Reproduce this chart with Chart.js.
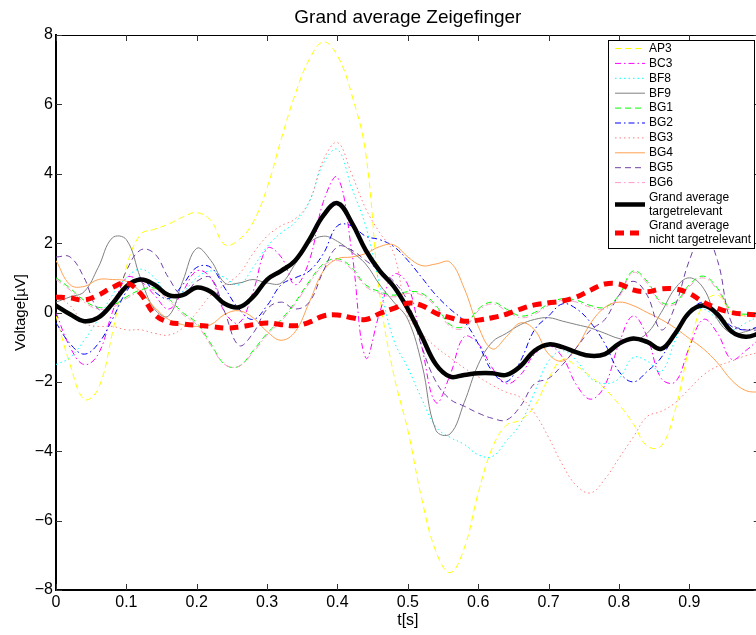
<!DOCTYPE html>
<html>
<head>
<meta charset="utf-8">
<script src="https://cdn.jsdelivr.net/npm/chart.js@4.4.1/dist/chart.umd.min.js"></script>
<style>
    html, body { margin: 0; padding: 0; background: #fff; }
    canvas { display: block; }
</style>
</head>
<body>
<canvas id="erp-chart" width="756" height="635"></canvas>
<script>
// Time axis (seconds)
const times = [0.00, 0.02, 0.04, 0.06, 0.08, 0.10, 0.12, 0.14, 0.16, 0.18,
               0.20, 0.22, 0.24, 0.26, 0.28, 0.30, 0.32, 0.34, 0.36, 0.38,
               0.40, 0.42, 0.44, 0.46, 0.48, 0.50, 0.52, 0.54, 0.56, 0.58,
               0.60, 0.62, 0.64, 0.66, 0.68, 0.70, 0.72, 0.74, 0.76, 0.78,
               0.80, 0.82, 0.84, 0.86, 0.88, 0.90, 0.92, 0.94, 0.96, 0.98,
               1.00];
const xTicks = [0, 0.1, 0.2, 0.3, 0.4, 0.5, 0.6, 0.7, 0.8, 0.9];
const yTicks = [-8, -6, -4, -2, 0, 2, 4, 6, 8];

// Subjects (µV)
const ap3 = [-0.1, -1.5, -2.5, -2.2, -0.6, 1.3, 2.25, 2.4, 2.55, 2.75,
             2.88, 2.65, 1.95, 2.1, 2.6, 3.6, 5.0, 6.3, 7.3, 7.8,
             7.4, 6.3, 4.6, 0.5, -1.8, -3.4, -5.4, -6.9, -7.5, -6.8,
             -5.2, -3.9, -3.25, -3.1, -2.7, -1.9, -1.35, -1.55, -1.85, -2.2,
             -2.65, -3.2, -3.85, -3.85, -2.8, -1.0, 0.25, 0.5, 0.0, -0.1,
             -0.1];
const bc3 = [0.0, -1.0, -1.5, -1.2, 0.0, 1.0, 0.9, 0.5, 0.1, 0.6,
             1.2, 1.0, 0.0, -0.3, 0.6, 1.85, 1.6, 0.8, 1.5, 3.2,
             3.9, 1.8, -1.3, 0.0, 1.1, 0.8, -1.0, -2.6, -1.8, -0.7,
             -0.9, -1.6, -2.05, -1.8, -1.2, -0.95, -1.3, -2.1, -2.5, -2.1,
             -0.9, -0.1, -0.7, -1.9, -2.0, -1.0, -0.2, -0.6, -1.35, -1.1,
             -0.75];
const bf8 = [-1.5, -1.3, -0.8, -0.2, 0.5, 1.0, 1.25, 1.0, 0.5, 0.6,
             1.0, 1.2, 1.0, 0.8, 1.3, 1.9, 2.3, 2.6, 3.2, 4.3,
             4.7, 3.6, 2.5, 0.8, -0.8, -1.6, -2.5, -3.3, -3.6, -3.8,
             -4.1, -4.15, -3.7, -3.2, -2.3, -1.4, -1.1, -1.4, -1.9, -2.05,
             -1.9, -1.3, -1.4, -1.7, -0.8, 0.0, 0.1, -0.2, -0.5, -0.3,
             -0.1];
const bf9 = [0.3, 0.45, 0.6, 1.3, 2.15, 2.1, 1.0, 0.1, -0.1, 0.9,
             1.85, 1.5, 0.85, 0.85, 0.95, 0.85, 0.85, 1.4, 2.0, 2.2,
             2.05, 1.75, 1.4, 0.8, 0.3, -0.2, -1.5, -3.4, -3.5, -2.6,
             -1.5, -0.85, -0.6, -0.35, -0.2, -0.15, -0.25, -0.35, -0.45, -0.6,
             -0.75, -0.8, -0.6, 0.0, 0.7, 1.0, 0.7, -0.2, -0.6, -0.55,
             -0.4];
const bg1 = [1.0, 0.7, 0.35, 0.15, 0.2, 0.45, 0.65, 0.7, 0.4, 0.0,
             -0.3, -0.9, -1.5, -1.55, -1.1, -0.6, -0.2, 0.3, 0.9, 1.4,
             1.55, 1.3, 0.8, 0.6, 0.5, 0.6, 0.55, 0.2, -0.35, -0.4,
             0.1, 0.3, 0.1, -0.1, 0.0, 0.25, 0.4, 0.35, 0.2, 0.15,
             0.5, 1.2, 0.9, 0.3, 0.3, 0.8, 1.05, 0.7, 0.05, -0.05,
             0.0];
const bg2 = [-0.3, -0.9, -1.2, -0.9, -0.2, 0.6, 1.0, 0.6, 0.4, 0.8,
             1.3, 1.3, 0.7, 0.1, -0.2, 0.2, 0.8, 1.0, 1.2, 1.7,
             2.5, 2.5, 2.2, 2.1, 1.9, 1.5, 1.0, 0.5, 0.1, -0.25,
             -0.9, -1.7, -2.0, -1.4, -0.5, -0.1, 0.25, 0.1, -0.3, -0.9,
             -1.7, -2.0, -1.7, -1.3, -0.6, 0.0, 0.3, 0.0, -0.4, -0.5,
             -0.4];
const bg3 = [0.5, 0.2, -0.3, -0.4, -0.4, -0.5, -0.5, -0.6, -0.65, -0.45,
             0.0, 0.5, 0.8, 1.1, 1.7, 2.2, 2.5, 2.7, 3.2, 4.4,
             4.9, 4.0, 3.0, 2.3, 1.7, -0.1, -0.6, -1.0, -1.3, -1.6,
             -1.85, -2.1, -2.3, -2.45, -2.9, -3.6, -4.4, -5.0, -5.2, -4.8,
             -4.2, -3.6, -3.0, -2.85, -2.6, -2.2, -1.8, -1.55, -1.4, -1.25,
             -1.15];
const bg4 = [1.5, 0.8, 0.75, 0.95, 0.95, 0.9, 0.6, 0.15, -0.2, -0.35,
             -0.4, -0.35, -0.05, 0.05, -0.15, -0.55, -0.8, -0.55, 0.3, 1.2,
             1.55, 1.6, 1.7, 1.9, 1.95, 1.6, 1.35, 1.4, 1.45, 0.7,
             -0.4, -1.05, -0.7, -0.3, -0.5, -1.2, -1.4, -1.0, -0.3, 0.15,
             0.3, 0.2, 0.0, -0.2, -0.45, -0.75, -1.05, -1.45, -1.95, -2.25,
             -2.3];
const bg5 = [1.6, 1.6, 1.0, 0.1, 0.2, 1.2, 1.8, 1.7, 1.0, 0.5,
             0.9, 1.0, 0.0, -0.95, -0.6, 0.1, 0.3, 0.1, 0.3, 1.2,
             1.9, 1.8, 1.5, 1.2, 0.9, 0.3, -1.0, -2.0, -2.5, -2.7,
             -2.9, -3.05, -3.1, -2.7, -2.05, -1.9, -1.5, -1.0, -0.5, -0.2,
             0.5, 0.9, 0.5, -0.5, 0.2, 1.5, 2.3, 1.5, -0.3, -0.5,
             -0.5];
const bg6 = [0.95, 0.65, 0.3, 0.1, 0.15, 0.4, 0.6, 0.65, 0.35, -0.05,
             -0.35, -0.95, -1.5, -1.55, -1.15, -0.65, -0.25, 0.25, 0.85, 1.35,
             1.5, 1.25, 0.75, 0.55, 0.45, 0.55, 0.5, 0.15, -0.4, -0.45,
             0.05, 0.25, 0.05, -0.15, -0.05, 0.2, 0.35, 0.3, 0.15, 0.1,
             0.45, 1.15, 0.85, 0.25, 0.25, 0.75, 1.0, 0.65, 0.0, -0.1,
             -0.05];

// Grand averages (µV)
const gaTarget = [0.2, -0.05, -0.25, -0.15, 0.25, 0.75, 0.95, 0.8, 0.5, 0.5,
                  0.72, 0.6, 0.25, 0.15, 0.45, 0.95, 1.2, 1.5, 2.1, 2.8,
                  3.15, 2.6, 1.8, 1.2, 0.75, 0.1, -0.7, -1.5, -1.85, -1.8,
                  -1.75, -1.75, -1.8, -1.55, -1.1, -0.92, -1.0, -1.15, -1.25, -1.2,
                  -0.9, -0.75, -0.85, -1.05, -0.6, 0.0, 0.2, -0.05, -0.55, -0.7,
                  -0.6];
const gaNonTarget = [0.45, 0.42, 0.36, 0.5, 0.72, 0.85, 0.55, -0.05, -0.28, -0.33,
                     -0.37, -0.4, -0.45, -0.42, -0.35, -0.3, -0.35, -0.38, -0.28, -0.1,
                     -0.07, -0.15, -0.2, -0.03, 0.12, 0.27, 0.2, -0.02, -0.15, -0.25,
                     -0.22, -0.15, -0.05, 0.1, 0.22, 0.28, 0.33, 0.45, 0.65, 0.82,
                     0.82, 0.65, 0.6, 0.68, 0.68, 0.55, 0.3, 0.12, 0.0, -0.05,
                     -0.07];

const FONT = '"Liberation Sans", Arial, Helvetica, sans-serif';
const DASH = [6, 4];
const DASHDOT = [6, 3, 1.5, 3];
const DOT = [1.5, 3];

// Series definitions (label, values, style)
const series = [
    { label: 'AP3', values: ap3, color: '#ffff00', width: 1, dash: DASH },
    { label: 'BC3', values: bc3, color: '#ff00ff', width: 1, dash: DASHDOT },
    { label: 'BF8', values: bf8, color: '#00ffff', width: 1, dash: DOT },
    { label: 'BF9', values: bf9, color: '#808080', width: 1, dash: [] },
    { label: 'BG1', values: bg1, color: '#00ff00', width: 1, dash: DASH },
    { label: 'BG2', values: bg2, color: '#0000ff', width: 1, dash: DASHDOT },
    { label: 'BG3', values: bg3, color: '#ff7f7f', width: 1, dash: DOT },
    { label: 'BG4', values: bg4, color: '#ffa050', width: 1, dash: [] },
    { label: 'BG5', values: bg5, color: '#7040a8', width: 1, dash: DASH },
    { label: 'BG6', values: bg6, color: '#ff99c8', width: 1, dash: DASHDOT },
    { label: ['Grand average', 'targetrelevant'], values: gaTarget, color: '#000000', width: 4.5, dash: [] },
    { label: ['Grand average', 'nicht targetrelevant'], values: gaNonTarget, color: '#ff0000', width: 5, dash: [9, 6] }
];

const X_MAX = 0.9947; // right edge of the figure cuts the axes just before t = 1

// Frame, ticks, title, axis labels and legend in MATLAB style
const matlabFrame = {
    id: 'matlabFrame',
    afterDatasetsDraw(chart) {
        const ctx = chart.ctx;
        const area = chart.chartArea;
        const xs = chart.scales.x;
        const ys = chart.scales.y;
        const xRight = xs.getPixelForValue(1);

        ctx.save();
        ctx.strokeStyle = '#000';

        // top border
        ctx.lineWidth = 1;
        ctx.beginPath();
        ctx.moveTo(area.left, area.top + 0.5);
        ctx.lineTo(xRight, area.top + 0.5);
        ctx.stroke();

        // inward ticks
        ctx.strokeStyle = '#333';
        ctx.beginPath();
        xTicks.forEach(v => {
            const px = Math.round(xs.getPixelForValue(v)) + 0.5;
            ctx.moveTo(px, area.bottom);
            ctx.lineTo(px, area.bottom - 6);
            ctx.moveTo(px, area.top);
            ctx.lineTo(px, area.top + 6);
        });
        yTicks.forEach(v => {
            const py = Math.round(ys.getPixelForValue(v)) + 0.5;
            ctx.moveTo(area.left, py);
            ctx.lineTo(area.left + 6, py);
            ctx.moveTo(xRight, py);
            ctx.lineTo(xRight - 6, py);
        });
        ctx.stroke();

        // title and axis labels
        ctx.fillStyle = '#000';
        ctx.textAlign = 'center';
        ctx.textBaseline = 'alphabetic';
        ctx.font = '19px ' + FONT;
        ctx.fillText('Grand average Zeigefinger', (area.left + xRight) / 2, 23);
        ctx.font = '16px ' + FONT;
        ctx.fillText('t[s]', (area.left + xRight) / 2, 625);
        ctx.save();
        ctx.translate(25, (area.top + area.bottom) / 2);
        ctx.rotate(-Math.PI / 2);
        ctx.font = '15px ' + FONT;
        ctx.fillText('Voltage[\u00b5V]', 0, 0);
        ctx.restore();

        // legend box
        const bx = 608, by = 40, bw = 146, bh = 208;
        ctx.fillStyle = '#fff';
        ctx.fillRect(bx, by, bw, bh);
        ctx.strokeStyle = '#000';
        ctx.lineWidth = 1;
        ctx.strokeRect(bx + 0.5, by + 0.5, bw, bh);

        ctx.font = '12px ' + FONT;
        ctx.textAlign = 'left';
        ctx.textBaseline = 'middle';
        let y = 48.5;
        chart.data.datasets.forEach(ds => {
            const lines = Array.isArray(ds.label) ? ds.label : [ds.label];
            const sampleY = y + (lines.length - 1) * 7;
            ctx.save();
            ctx.strokeStyle = ds.borderColor;
            ctx.lineWidth = ds.borderWidth;
            ctx.setLineDash(ds.borderDash || []);
            ctx.beginPath();
            ctx.moveTo(615, sampleY);
            ctx.lineTo(645, sampleY);
            ctx.stroke();
            ctx.restore();
            ctx.fillStyle = '#000';
            lines.forEach((t, i) => ctx.fillText(t, 649, y + i * 14));
            y += lines.length === 1 ? 14.9 : 28.5;
        });
        ctx.restore();
    }
};

const datasets = series.map((s, i) => ({
    label: s.label,
    data: times.map((t, j) => ({ x: t, y: s.values[j] })),
    borderColor: s.color,
    borderWidth: s.width,
    borderDash: s.dash,
    pointRadius: 0,
    tension: 0.4,
    fill: false,
    order: series.length - i
}));

new Chart(document.getElementById('erp-chart').getContext('2d'), {
    type: 'line',
    data: { datasets: datasets },
    options: {
        responsive: false,
        animation: false,
        devicePixelRatio: 1,
        layout: { padding: { top: 35, left: 0, right: 0, bottom: 0 } },
        plugins: {
            legend: { display: false },
            title: { display: false },
            tooltip: { enabled: false }
        },
        scales: {
            x: {
                type: 'linear',
                min: 0,
                max: X_MAX,
                afterBuildTicks: scale => { scale.ticks = xTicks.map(v => ({ value: v })); },
                afterFit: scale => { scale.height = 45; },
                grid: { display: false, drawTicks: false },
                border: { display: true, color: '#000', width: 2 },
                ticks: {
                    autoSkip: false,
                    maxRotation: 0,
                    padding: 3,
                    color: '#000',
                    font: { family: FONT, size: 16 },
                    callback: v => String(Math.round(v * 10) / 10)
                }
            },
            y: {
                type: 'linear',
                min: -8,
                max: 8,
                afterBuildTicks: scale => { scale.ticks = yTicks.map(v => ({ value: v })); },
                afterFit: scale => { scale.width = 56; },
                grid: { display: false, drawTicks: false },
                border: { display: true, color: '#000', width: 2 },
                ticks: {
                    padding: 3,
                    color: '#000',
                    font: { family: FONT, size: 16 },
                    callback: v => String(v).replace('-', '\u2212')
                }
            }
        }
    },
    plugins: [matlabFrame]
});
</script>
</body>
</html>
